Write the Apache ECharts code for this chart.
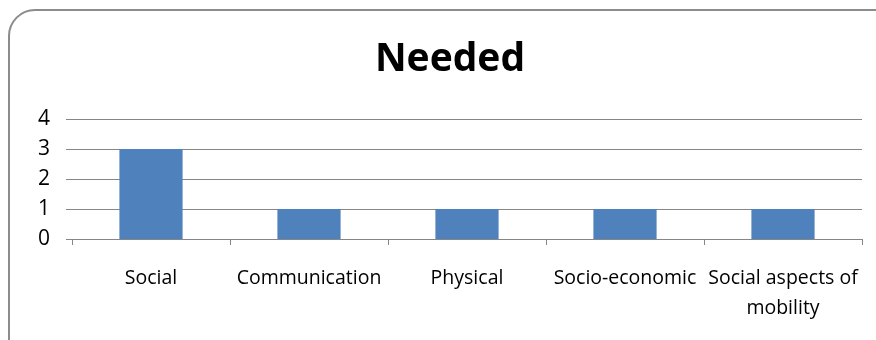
<!DOCTYPE html>
<html>
<head>
<meta charset="utf-8">
<script src="https://cdn.jsdelivr.net/npm/echarts@6/dist/echarts.min.js"></script>
<style>html,body{margin:0;padding:0;background:#fff;}#c{width:876px;height:340px;}</style>
</head>
<body>
<div id="c"></div>
<script>
var titleText = 'Needed';
var categories = ['Social', 'Communication', 'Physical', 'Socio-economic', 'Social aspects of\nmobility'];
var values = [3, 1, 1, 1, 1];
var yTicks = [0, 1, 2, 3, 4];

var chart = echarts.init(document.getElementById('c'), null, {renderer: 'canvas'});
var FONT = 'Open Sans';
chart.setOption({
  animation: false,
  backgroundColor: '#ffffff',
  graphic: [{
    type: 'rect', z: -1,
    shape: {x: 9, y: 10, width: 900, height: 360, r: 26},
    style: {fill: '#ffffff', stroke: '#8c8c8c', lineWidth: 2}
  }],
  title: {
    text: titleText, left: 445, top: 35, textAlign: 'center',
    textStyle: {fontFamily: FONT, fontWeight: 'bold', fontSize: 39, color: '#000'}
  },
  grid: {left: 72, right: 14, top: 119, bottom: 101, containLabel: false},
  xAxis: {
    type: 'category', data: categories, boundaryGap: true,
    axisLine: {show: true, lineStyle: {color: '#868686', width: 1}},
    axisTick: {show: true, length: 6, lineStyle: {color: '#868686'}},
    axisLabel: {interval: 0, margin: 24, fontFamily: FONT, fontSize: 19.5, color: '#000', lineHeight: 30}
  },
  yAxis: {
    type: 'value', min: yTicks[0], max: yTicks[yTicks.length - 1], interval: 1,
    axisLine: {show: false},
    axisTick: {show: true, length: 6, lineStyle: {color: '#868686'}},
    splitLine: {show: true, lineStyle: {color: '#868686', width: 1}},
    axisLabel: {margin: 22, fontFamily: FONT, fontSize: 21, color: '#000'}
  },
  series: [{
    type: 'bar', data: values, barWidth: '40%',
    itemStyle: {color: '#4F81BD'}
  }]
});
</script>
</body>
</html>
